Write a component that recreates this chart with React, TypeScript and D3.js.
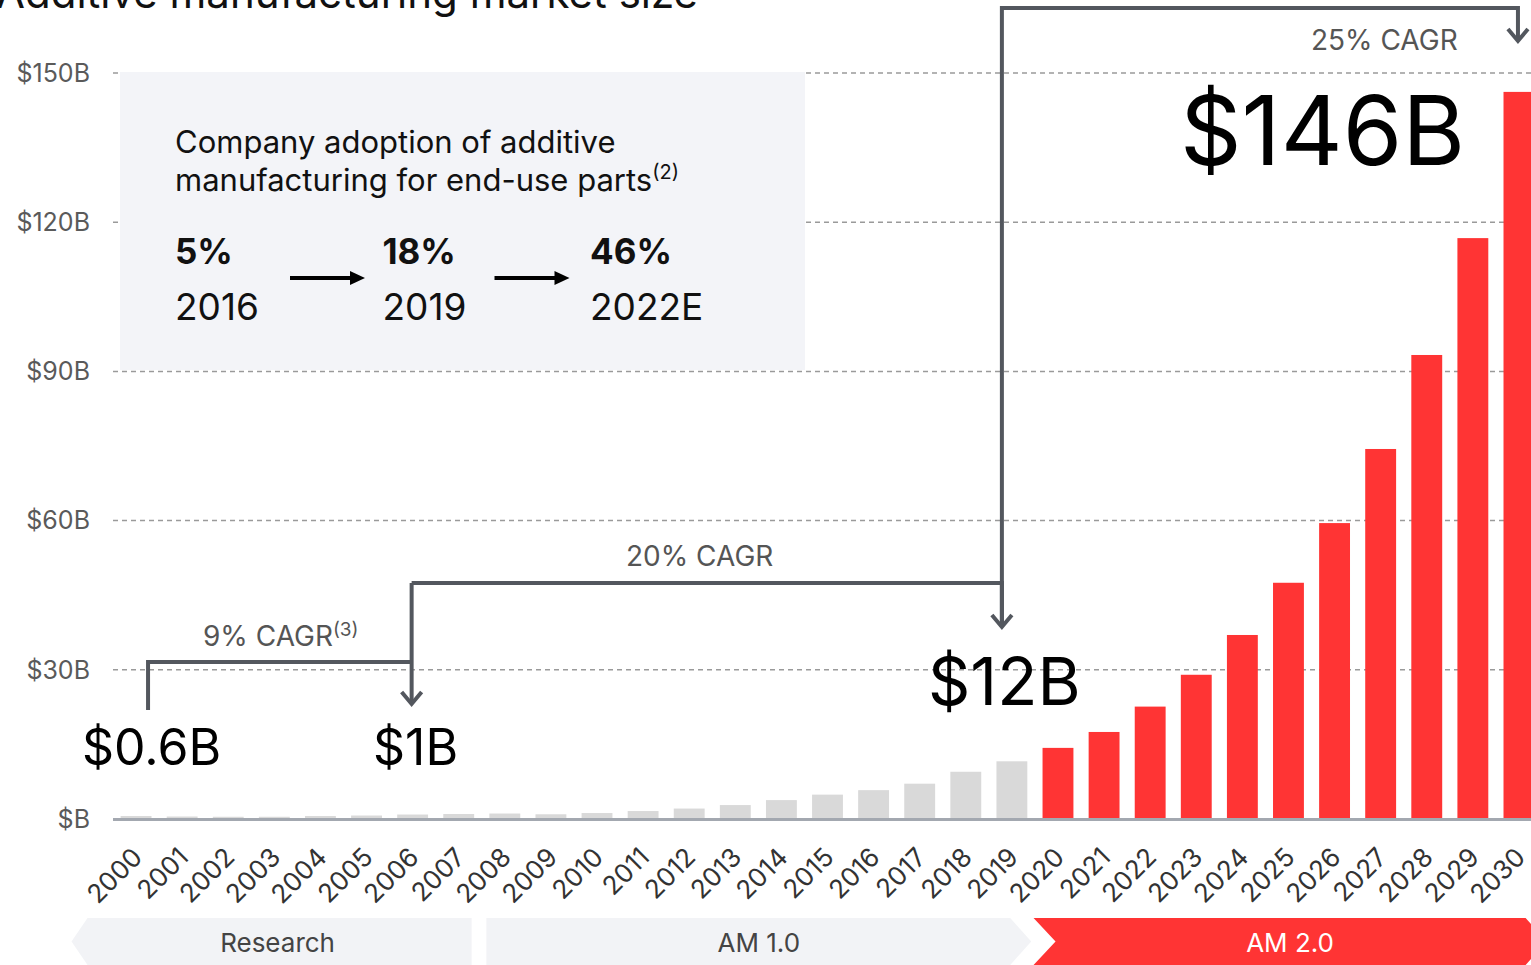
import React from 'react'
import * as d3 from 'd3'

const years = d3.range(2000, 2031).map(String)
const marketSize = [
  0.6, 0.5, 0.45, 0.45, 0.6, 0.7, 0.9, 1.0, 1.1, 0.95,
  1.2, 1.6, 2.1, 2.8, 3.8, 4.9, 5.8, 7.1, 9.5, 11.6,
  14.3, 17.5, 22.6, 29.0, 37.0, 47.5, 59.5, 74.4, 93.3, 116.8, 146.2,
]
const yTicks = [0, 30, 60, 90, 120, 150]
const tickLabel = (v: number) => (v === 0 ? '$B' : `$${v}B`)

const adoption = [
  { pct: '5%', year: '2016' },
  { pct: '18%', year: '2019' },
  { pct: '46%', year: '2022E' },
]

const phases = [
  { name: 'Research', from: 1998.6, to: 2007.28, kind: 'first' },
  { name: 'AM 1.0', from: 2007.6, to: 2019.42, kind: 'mid' },
  { name: 'AM 2.0', from: 2019.47, to: 2030.6, kind: 'last' },
]

const W = 1531
const H = 965
const FONT = 'Inter, "Noto Sans", sans-serif'
const RED = '#ff3434'
const GREY_BAR = '#d9d9d9'
const LINE = '#53575e'

const App = () => {
  const x = d3.scaleBand<string>().domain(years).range([113, 1542]).paddingInner(0.33).paddingOuter(0.165)
  const y = d3.scaleLinear().domain([0, 150]).range([819, 73])
  const xc = (yr: string) => (x(yr) ?? 0) + x.bandwidth() / 2
  const xYear = d3.scaleLinear().domain([2000, 2030]).range([xc('2000'), xc('2030')])

  const chevron = (cx: number, tip: number) =>
    `M${cx - 10},${tip - 12}L${cx},${tip}L${cx + 10},${tip - 12}`

  const a0 = xc('2000') + 12
  const a1 = xc('2006') - 1
  const a2 = xc('2019') - 10
  const a3 = xc('2030') - 1

  const bandTop = 918
  const bandBot = 965
  const mid = (bandTop + bandBot) / 2
  const phasePath = (p: typeof phases[number]) => {
    const x0 = xYear(p.from)
    const x1 = xYear(p.to)
    if (p.kind === 'first')
      return `M${x0 + 16},${bandTop}H${x1}V${bandBot}H${x0 + 16}L${x0},${mid}Z`
    if (p.kind === 'mid')
      return `M${x0},${bandTop}H${x1 - 21}L${x1},${mid}L${x1 - 21},${bandBot}H${x0}Z`
    return `M${x0},${bandTop}H${x1 - 21}L${x1},${mid}L${x1 - 21},${bandBot}H${x0}L${x0 + 22},${mid}Z`
  }

  return (
    <svg width={W} height={H} style={{ position: 'absolute', left: 0, top: 0, fontFamily: FONT }}>
      <rect width={W} height={H} fill="#fff" />

      {/* title, cut at the top edge */}
      <text x={-4} y={8} fontSize={42} fill="#111">
        Additive manufacturing market size
        <tspan fontSize={25} dy={-15}>(1)</tspan>
      </text>

      {/* grid */}
      {yTicks.filter(t => t > 0).map(t => (
        <line key={t} x1={113} x2={W} y1={y(t)} y2={y(t)} stroke="#9a9a9a" strokeWidth={1.5} strokeDasharray="5,4" />
      ))}
      {yTicks.map(t => (
        <text key={t} x={90} y={y(t)} dy="0.35em" textAnchor="end" fontSize={25} fill="#5a5a5a">
          {tickLabel(t)}
        </text>
      ))}

      {/* adoption box */}
      <rect x={120} y={72} width={685} height={298} fill="#f3f4f8" />
      <text x={175} y={153} fontSize={31} fill="#111">Company adoption of additive</text>
      <text x={175} y={191} fontSize={31} fill="#111">
        manufacturing for end-use parts<tspan fontSize={20} dy={-12}>(2)</tspan>
      </text>
      {adoption.map((d, i) => (
        <g key={d.year} transform={`translate(${175 + i * 207.5},0)`}>
          <text y={264} fontSize={35} fontWeight={700} fill="#111">{d.pct}</text>
          <text y={320} fontSize={37} fill="#111">{d.year}</text>
          {i < adoption.length - 1 && (
            <g>
              <line x1={115 - i * 3} x2={176 - i * 3} y1={278} y2={278} stroke="#000" strokeWidth={4} />
              <path d={`M${175 - i * 3},${271}L${190 - i * 3},${278}L${175 - i * 3},${285}Z`} fill="#000" />
            </g>
          )}
        </g>
      ))}

      {/* bars */}
      {years.map((yr, i) => (
        <rect
          key={yr}
          x={x(yr)}
          y={y(marketSize[i])}
          width={x.bandwidth()}
          height={y(0) - y(marketSize[i])}
          fill={+yr >= 2020 ? RED : GREY_BAR}
        />
      ))}
      <line x1={113} x2={W} y1={y(0) + 0.5} y2={y(0) + 0.5} stroke="#a3a8b0" strokeWidth={3} />

      {years.map(yr => (
        <text
          key={yr}
          transform={`translate(${xc(yr) - 5},${846}) rotate(-45)`}
          textAnchor="end"
          dy="0.7em"
          fontSize={26}
          fill="#333"
        >
          {yr}
        </text>
      ))}

      {/* CAGR connectors */}
      <g fill="none" stroke={LINE} strokeWidth={4}>
        <path d={`M${a0},710V662H${a1}`} />
        <path d={`M${a1},583V704`} />
        <path d={chevron(a1, 704)} />
        <path d={`M${a1},583H${a2}V627`} />
        <path d={chevron(a2, 627)} />
        <path d={`M${a2},627V8H${a3}V41`} />
        <path d={chevron(a3, 41)} />
      </g>
      <text x={203} y={646} fontSize={28} fill="#555">
        9% CAGR<tspan fontSize={19} dy={-10}>(3)</tspan>
      </text>
      <text x={626} y={566} fontSize={28} fill="#555">20% CAGR</text>
      <text x={1311} y={50} fontSize={28} fill="#555">25% CAGR</text>

      {/* value callouts */}
      <text x={82} y={765} fontSize={50} fill="#000">$0.6B</text>
      <text x={373} y={765} fontSize={50} fill="#000">$1B</text>
      <text x={928} y={705} fontSize={66} fill="#000">$12B</text>
      <text x={1180} y={165} fontSize={96} fill="#000">$146B</text>

      {/* phases */}
      {phases.map(p => (
        <g key={p.name}>
          <path d={phasePath(p)} fill={p.kind === 'last' ? RED : '#f2f3f6'} />
          <text
            x={(xYear(p.from) + xYear(p.to)) / 2 + (p.kind === 'first' ? 6 : 0)}
            y={952}
            textAnchor="middle"
            fontSize={26}
            fill={p.kind === 'last' ? '#fff' : '#444'}
          >
            {p.name}
          </text>
        </g>
      ))}
    </svg>
  )
}

export default App
